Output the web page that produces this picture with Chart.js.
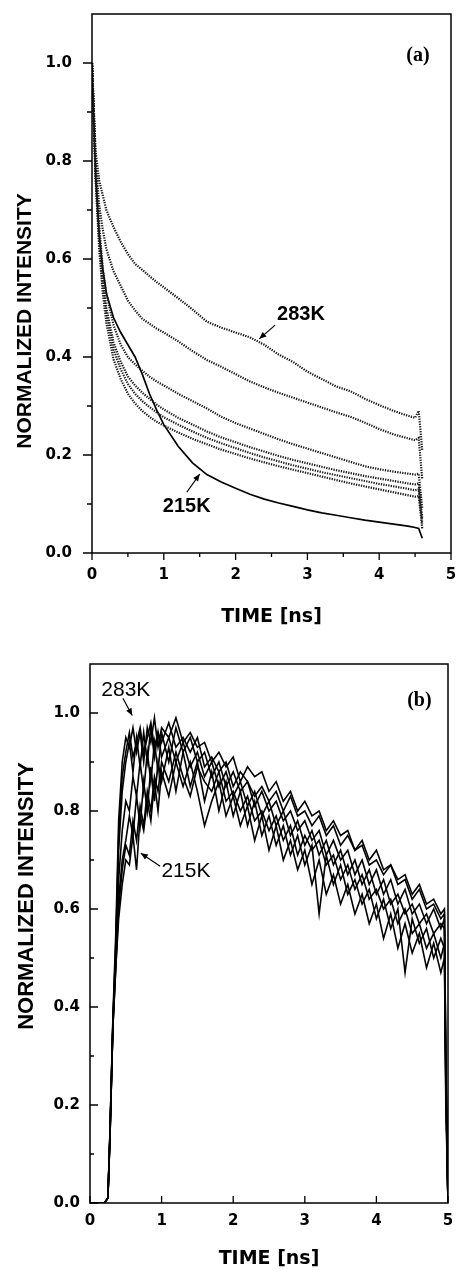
<!DOCTYPE html>
<html><head><meta charset="utf-8">
<script src="https://cdn.jsdelivr.net/npm/chart.js@4.4.1/dist/chart.umd.min.js"></script>
<style>
html,body{margin:0;padding:0;background:#fff;}
#wrap{position:relative;width:458px;height:1270px;overflow:hidden;background:#fff;}
canvas{position:absolute;left:0;}
#ca{top:0}
#cb{top:640px}
.ytitle{position:absolute;font-family:"Liberation Sans",Arial,sans-serif;font-weight:bold;white-space:nowrap;transform:translate(-50%,-50%) rotate(-90deg);line-height:1;color:#000;}
</style></head>
<body><div id="wrap">
<canvas id="ca" width="458" height="640"></canvas>
<canvas id="cb" width="458" height="630"></canvas>
<div class="ytitle" style="left:22.5px;top:321px;font-size:21px">NORMALIZED INTENSITY</div>
<div class="ytitle" style="left:25.5px;top:896px;font-size:22px">NORMALIZED INTENSITY</div>
</div>
<script>
// ---------- Panel (a): decay curves ----------
const timeA = [0,0.05,0.1,0.15,0.2,0.3,0.4,0.5,0.6,0.7,0.8,0.9,1.0,1.2,1.4,1.6,1.8,2.0,2.2,2.4,2.6,2.8,3.0,3.2,3.4,3.6,3.8,4.0,4.2,4.4,4.5,4.55,4.6];
const a283 = [1.0,0.82,0.76,0.73,0.70,0.665,0.635,0.61,0.59,0.578,0.565,0.553,0.542,0.52,0.497,0.472,0.46,0.45,0.44,0.425,0.405,0.39,0.37,0.355,0.34,0.33,0.315,0.302,0.29,0.28,0.276,0.29,0.21];
const a2   = [1.0,0.80,0.71,0.66,0.62,0.575,0.545,0.515,0.495,0.478,0.468,0.458,0.45,0.432,0.412,0.394,0.38,0.365,0.35,0.338,0.327,0.317,0.307,0.297,0.287,0.278,0.266,0.253,0.242,0.234,0.23,0.235,0.15];
const a3   = [1.0,0.79,0.67,0.58,0.53,0.465,0.425,0.40,0.385,0.372,0.36,0.35,0.342,0.325,0.31,0.295,0.278,0.265,0.254,0.243,0.232,0.222,0.213,0.204,0.195,0.186,0.177,0.171,0.166,0.162,0.16,0.162,0.09];
const a4   = [1.0,0.78,0.65,0.56,0.50,0.43,0.39,0.36,0.342,0.327,0.315,0.303,0.293,0.276,0.262,0.248,0.236,0.226,0.216,0.207,0.198,0.19,0.183,0.176,0.169,0.163,0.157,0.152,0.147,0.142,0.14,0.142,0.07];
const a5   = [1.0,0.77,0.64,0.55,0.49,0.415,0.375,0.345,0.325,0.31,0.298,0.287,0.277,0.262,0.248,0.235,0.224,0.214,0.204,0.195,0.187,0.179,0.172,0.165,0.159,0.153,0.147,0.141,0.136,0.131,0.128,0.13,0.06];
const a6   = [1.0,0.76,0.62,0.53,0.47,0.395,0.355,0.325,0.305,0.29,0.278,0.268,0.26,0.246,0.233,0.222,0.211,0.202,0.193,0.185,0.177,0.17,0.163,0.156,0.149,0.142,0.136,0.13,0.124,0.118,0.115,0.116,0.05];
const a215 = [1.0,0.77,0.65,0.58,0.53,0.48,0.45,0.425,0.40,0.365,0.325,0.292,0.262,0.218,0.184,0.16,0.145,0.132,0.12,0.11,0.102,0.095,0.088,0.082,0.077,0.072,0.067,0.063,0.059,0.055,0.052,0.05,0.03];

// ---------- Panel (b): rise curves ----------
const timeB = [0,0.1,0.2,0.25,0.28,0.32,0.36,0.4,0.45,
  0.5,0.55,0.6,0.65,0.7,0.75,0.8,0.85,0.9,0.95,
  1.0,1.1,1.2,1.3,1.4,1.5,1.6,1.7,1.8,1.9,
  2.0,2.1,2.2,2.3,2.4,2.5,2.6,2.7,2.8,2.9,
  3.0,3.1,3.2,3.3,3.4,3.5,3.6,3.7,3.8,3.9,
  4.0,4.1,4.2,4.3,4.4,4.5,4.6,4.7,4.8,4.9,
  4.95,4.97,5.0];
const b283 = [0,0,0,0.01,0.15,0.38,0.55,0.78,0.9,
  0.95,0.93,0.97,0.92,0.96,0.9,0.97,0.94,0.99,0.93,
  0.97,0.95,0.99,0.94,0.96,0.93,0.94,0.9,0.92,0.89,
  0.91,0.86,0.89,0.87,0.88,0.84,0.86,0.82,0.84,0.8,
  0.82,0.79,0.8,0.76,0.78,0.75,0.76,0.72,0.74,0.7,
  0.72,0.68,0.69,0.66,0.67,0.63,0.65,0.61,0.62,0.59,
  0.6,0.3,0];
const b6 = [0,0,0,0.01,0.15,0.37,0.53,0.75,0.87,
  0.92,0.96,0.91,0.94,0.97,0.92,0.95,0.98,0.93,0.96,
  0.94,0.98,0.93,0.95,0.92,0.95,0.89,0.91,0.88,0.9,
  0.85,0.88,0.86,0.83,0.85,0.82,0.84,0.8,0.83,0.79,
  0.8,0.77,0.79,0.75,0.77,0.73,0.75,0.72,0.73,0.69,
  0.7,0.67,0.69,0.65,0.66,0.62,0.64,0.6,0.61,0.58,
  0.59,0.27,0];
const b2 = [0,0,0,0.01,0.15,0.37,0.52,0.72,0.84,
  0.9,0.94,0.88,0.95,0.89,0.96,0.9,0.97,0.91,0.96,
  0.91,0.95,0.9,0.94,0.89,0.92,0.87,0.9,0.85,0.88,
  0.83,0.86,0.81,0.84,0.79,0.82,0.77,0.8,0.75,0.78,
  0.73,0.76,0.71,0.74,0.69,0.72,0.67,0.7,0.65,0.68,
  0.63,0.66,0.61,0.63,0.59,0.61,0.57,0.59,0.55,0.57,
  0.56,0.25,0];
const b3 = [0,0,0,0.01,0.14,0.37,0.5,0.66,0.76,
  0.82,0.8,0.87,0.83,0.9,0.84,0.92,0.86,0.94,0.88,
  0.96,0.9,0.97,0.92,0.95,0.9,0.92,0.87,0.9,0.85,
  0.88,0.84,0.86,0.81,0.84,0.8,0.82,0.78,0.8,0.76,
  0.78,0.74,0.76,0.71,0.74,0.7,0.72,0.67,0.7,0.65,
  0.68,0.63,0.66,0.61,0.64,0.59,0.61,0.57,0.6,0.56,
  0.58,0.28,0];
const b4 = [0,0,0,0.01,0.14,0.36,0.49,0.62,0.7,
  0.74,0.79,0.75,0.83,0.77,0.86,0.8,0.89,0.82,0.9,
  0.86,0.93,0.84,0.92,0.85,0.9,0.82,0.88,0.8,0.86,
  0.79,0.84,0.77,0.82,0.75,0.79,0.73,0.77,0.71,0.75,
  0.69,0.73,0.59,0.71,0.65,0.69,0.63,0.66,0.61,0.64,
  0.58,0.62,0.56,0.6,0.47,0.58,0.53,0.56,0.5,0.54,
  0.52,0.22,0];
const b7 = [0,0,0,0.01,0.14,0.36,0.48,0.6,0.68,
  0.73,0.71,0.78,0.74,0.81,0.77,0.84,0.8,0.87,0.84,
  0.9,0.86,0.92,0.87,0.83,0.89,0.86,0.84,0.88,0.82,
  0.84,0.8,0.83,0.78,0.8,0.76,0.79,0.74,0.77,0.71,
  0.75,0.72,0.74,0.69,0.71,0.66,0.69,0.64,0.67,0.62,
  0.64,0.6,0.62,0.57,0.6,0.55,0.57,0.52,0.55,0.5,
  0.53,0.24,0];
const b215 = [0,0,0,0.01,0.14,0.36,0.48,0.58,0.65,
  0.7,0.69,0.75,0.68,0.79,0.76,0.82,0.78,0.86,0.8,
  0.88,0.83,0.9,0.85,0.9,0.84,0.77,0.82,0.86,0.79,
  0.83,0.77,0.81,0.74,0.79,0.72,0.77,0.7,0.74,0.68,
  0.72,0.65,0.7,0.63,0.67,0.61,0.65,0.59,0.63,0.57,
  0.61,0.54,0.59,0.52,0.57,0.51,0.55,0.48,0.53,0.47,
  0.5,0.2,0];

// ---------- helpers ----------
const pts = (t, v) => t.map((x, i) => ({x: x, y: v[i]}));
const tickFont = {family: '"DejaVu Sans", sans-serif', weight: 'bold', size: 15};

const framePlugin = {
  id: 'frame',
  afterDraw(chart, args, o) {
    const {ctx, chartArea: a, scales: {x, y}} = chart;
    ctx.save();
    ctx.strokeStyle = '#000';
    ctx.lineWidth = 1.5;
    ctx.strokeRect(a.left, a.top, a.right - a.left, a.bottom - a.top);
    const d = o.inward ? -1 : 1;
    ctx.lineWidth = 1.3;
    ctx.beginPath();
    const yt = y.ticks.map(t => t.value);
    yt.forEach((v, i) => {
      const p = y.getPixelForValue(v);
      ctx.moveTo(a.left, p); ctx.lineTo(a.left - d * o.yMajor, p);
      if (i < yt.length - 1) {
        const q = y.getPixelForValue((v + yt[i + 1]) / 2);
        ctx.moveTo(a.left, q); ctx.lineTo(a.left - d * o.yMinor, q);
      }
    });
    const xt = x.ticks.map(t => t.value);
    xt.forEach((v, i) => {
      const p = x.getPixelForValue(v);
      ctx.moveTo(p, a.bottom); ctx.lineTo(p, a.bottom + d * o.xMajor);
      if (i < xt.length - 1 && o.xMinor > 0) {
        const q = x.getPixelForValue((v + xt[i + 1]) / 2);
        ctx.moveTo(q, a.bottom); ctx.lineTo(q, a.bottom + d * o.xMinor);
      }
    });
    ctx.stroke();
    // annotations
    ctx.fillStyle = '#000';
    ctx.textAlign = 'center';
    ctx.textBaseline = 'middle';
    (o.notes || []).forEach(n => {
      ctx.font = n.font;
      ctx.fillText(n.text, x.getPixelForValue(n.x), y.getPixelForValue(n.y));
      if (n.arrow) {
        const x0 = x.getPixelForValue(n.arrow[0]), y0 = y.getPixelForValue(n.arrow[1]);
        const x1 = x.getPixelForValue(n.arrow[2]), y1 = y.getPixelForValue(n.arrow[3]);
        const ang = Math.atan2(y1 - y0, x1 - x0);
        ctx.lineWidth = 1.2;
        ctx.beginPath(); ctx.moveTo(x0, y0); ctx.lineTo(x1, y1); ctx.stroke();
        ctx.beginPath();
        ctx.moveTo(x1, y1);
        ctx.lineTo(x1 - 7 * Math.cos(ang) + 3 * Math.sin(ang), y1 - 7 * Math.sin(ang) - 3 * Math.cos(ang));
        ctx.lineTo(x1 - 7 * Math.cos(ang) - 3 * Math.sin(ang), y1 - 7 * Math.sin(ang) + 3 * Math.cos(ang));
        ctx.closePath(); ctx.fill();
      }
    });
    ctx.restore();
  }
};

function makeChart(id, datasets, p) {
  return new Chart(document.getElementById(id), {
    type: 'scatter',
    data: {datasets: datasets},
    plugins: [framePlugin],
    options: {
      responsive: false, animation: false, devicePixelRatio: 1,
      layout: {padding: p.pad},
      elements: {point: {radius: 0, hoverRadius: 0}, line: {tension: 0}},
      plugins: {legend: {display: false}, tooltip: {enabled: false},
        frame: p.frame},
      scales: {
        x: {type: 'linear', min: 0, max: 5,
          grid: {display: false, drawTicks: false}, border: {display: false},
          ticks: {stepSize: 1, padding: p.xPad, color: '#000', font: tickFont, maxRotation: 0, autoSkip: false,
            callback: v => String(v)},
          title: {display: true, text: 'TIME [ns]', color: '#000', padding: 0,
            font: {family: '"DejaVu Sans", sans-serif', weight: 'bold', size: 19}},
          afterFit: s => { s.height = p.xH; s.paddingLeft = 0; s.paddingRight = 0; }},
        y: {type: 'linear', min: 0, max: 1.1,
          grid: {display: false, drawTicks: false}, border: {display: false},
          ticks: {stepSize: 0.2, includeBounds: false, padding: p.yPad, color: '#000', font: tickFont,
            callback: v => (v > 1.05 ? '' : v.toFixed(1))},
          afterFit: s => { s.width = p.yW; s.paddingTop = 0; s.paddingBottom = 0; }}
      }
    }
  });
}

const dotted = (label, t, v) => ({label, data: pts(t, v), showLine: true, borderColor: '#1a1a1a', borderWidth: 2.2, borderDash: [1.3, 1.2]});
const solid = (label, t, v, w) => ({label, data: pts(t, v), showLine: true, borderColor: '#000', borderWidth: w});

makeChart('ca', [
  dotted('283K', timeA, a283), dotted('c2', timeA, a2), dotted('c3', timeA, a3),
  dotted('c4', timeA, a4), dotted('c5', timeA, a5), dotted('c6', timeA, a6),
  solid('215K', timeA, a215, 1.7)
], {
  pad: {top: 14, right: 7, bottom: 12, left: 0}, xH: 75, yW: 92, xPad: 13, yPad: 20,
  frame: {inward: false, yMajor: 9, yMinor: 5, xMajor: 7, xMinor: 4, notes: [
    {text: '283K', x: 2.91, y: 0.486, font: 'bold 20px "Liberation Sans", Arial, sans-serif', arrow: [2.55, 0.465, 2.33, 0.437]},
    {text: '215K', x: 1.32, y: 0.094, font: 'bold 20px "Liberation Sans", Arial, sans-serif', arrow: [1.32, 0.124, 1.50, 0.161]},
    {text: '(a)', x: 4.54, y: 1.014, font: 'bold 20px "Liberation Serif", "Times New Roman", serif'}
  ]}
});

makeChart('cb', [
  solid('283K', timeB, b283, 1.6), solid('b6', timeB, b6, 1.6), solid('b2', timeB, b2, 1.6),
  solid('b3', timeB, b3, 1.6), solid('b4', timeB, b4, 1.6), solid('b7', timeB, b7, 1.6),
  solid('215K', timeB, b215, 1.6)
], {
  pad: {top: 24, right: 10, bottom: 0, left: 0}, xH: 67, yW: 90, xPad: 9, yPad: 10,
  frame: {inward: true, yMajor: 8, yMinor: 4, xMajor: 7, xMinor: 0, notes: [
    {text: '283K', x: 0.50, y: 1.046, font: '21px "Liberation Sans", Arial, sans-serif', arrow: [0.46, 1.03, 0.59, 0.995]},
    {text: '215K', x: 1.34, y: 0.677, font: '21px "Liberation Sans", Arial, sans-serif', arrow: [0.98, 0.687, 0.71, 0.714]},
    {text: '(b)', x: 4.6, y: 1.025, font: 'bold 20px "Liberation Serif", "Times New Roman", serif'}
  ]}
});
</script>
</body></html>
